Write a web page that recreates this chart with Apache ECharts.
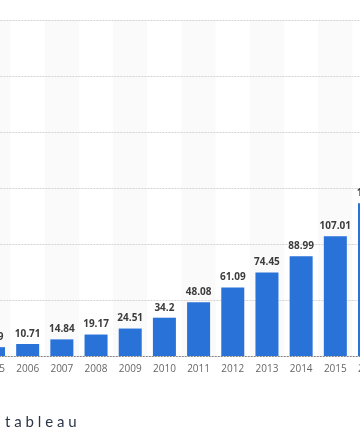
<!DOCTYPE html>
<html><head><meta charset="utf-8">
<script src="https://cdn.jsdelivr.net/npm/echarts@6/dist/echarts.min.js"></script>
<style>html,body{margin:0;padding:0;background:#fff;}#c{width:360px;height:437px;}</style>
</head><body><div id="c"></div>
<script>
const years = ['2005','2006','2007','2008','2009','2010','2011','2012','2013','2014','2015','2016'];
const values = [7.89, 10.71, 14.84, 19.17, 24.51, 34.2, 48.08, 61.09, 74.45, 88.99, 107.01, 136.4];
const yTicks = [0, 50, 100, 150, 200, 250, 300];

const chart = echarts.init(document.getElementById('c'), null, {renderer: 'canvas'});
chart.setOption({
  animation: false,
  grid: {left: -23.6, top: 20, width: 410.2, height: 336, containLabel: false, outerBoundsMode: 'none'},
  xAxis: {
    type: 'category', data: years, z: 0,
    axisLine: {lineStyle: {color: '#555', width: 1}},
    axisTick: {show: false},
    axisLabel: {color: '#666', fontSize: 10, fontFamily: 'Open Sans', margin: 8},
    splitArea: {show: true, areaStyle: {color: ['#fafafa', '#ffffff']}}
  },
  yAxis: {
    type: 'value', min: yTicks[0], max: yTicks[yTicks.length-1], interval: 50, z: 1,
    axisLabel: {show: false}, axisLine: {show: false}, axisTick: {show: false},
    splitLine: {lineStyle: {color: '#d4d4d4', type: [2, 1], width: 1}}
  },
  series: [{
    type: 'bar', data: values, barWidth: 23, z: 3,
    itemStyle: {color: '#2872d8'},
    label: {show: true, position: 'top', distance: 5, color: '#3c3c3c', fontSize: 10, fontWeight: 'bold', fontFamily: 'Open Sans'}
  }],
  graphic: [{
    type: 'text', left: 5, top: 415,
    style: {text: 't a b l e a u', fill: '#2b3548', fontSize: 15, fontFamily: 'Lato', fontWeight: 400}
  }]
});
</script></body></html>
